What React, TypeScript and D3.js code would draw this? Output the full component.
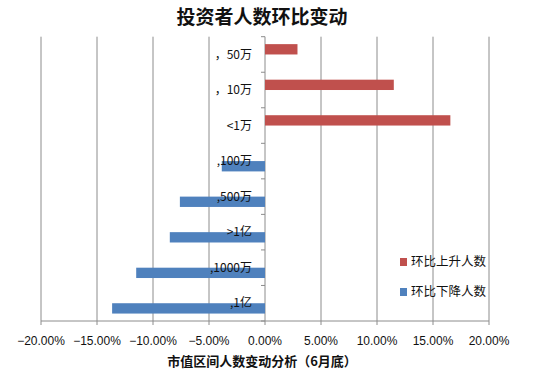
import * as d3 from 'd3'
import { useMemo } from 'react'

// categories top to bottom
const categories = ['，50万', '，10万', '<1万', ',100万', ',500万', '>1亿', ',1000万', ',1亿']
const seriesNames = ['环比上升人数', '环比下降人数']
const upValues = [2.9, 11.5, 16.55, 0, 0, 0, 0, 0]
const downValues = [0, 0, 0, -3.86, -7.6, -8.5, -11.5, -13.65]
const xTicks = [-20, -15, -10, -5, 0, 5, 10, 15, 20]
const colors = ['#C0504D', '#4F81BD']

const width = 533
const height = 384
const plot = { left: 41, right: 489, top: 36.7, bottom: 321 }
const cjk = '"Noto Sans CJK SC", sans-serif'
const grid = '#8c8c8c'

const App = () => {
  const xScale = useMemo(
    () => d3.scaleLinear().domain([-20, 20]).range([plot.left, plot.right]),
    []
  )
  const yScale = useMemo(
    () => d3.scaleBand().domain(categories).range([plot.top, plot.bottom]).padding(0),
    []
  )
  const subScale = useMemo(
    () =>
      d3.scaleBand().domain(seriesNames).range([0, yScale.bandwidth()]).paddingInner(0).paddingOuter(0.72),
    [yScale]
  )

  const rows = categories.map((c, i) => ({ c, vals: [upValues[i], downValues[i]] }))
  const x0 = xScale(0)

  return (
    <svg
      width={width}
      height={height}
      style={{ position: 'absolute', left: 0, top: 0, background: '#fff' }}
    >
      {/* title */}
      <text x={262} y={24} textAnchor="middle" fontSize="19px" fontWeight="bold" fontFamily={cjk} fill="#111">
        投资者人数环比变动
      </text>

      {/* gridlines */}
      {xTicks.map((t) => (
        <line key={t} x1={xScale(t)} x2={xScale(t)} y1={plot.top} y2={plot.bottom + 4} stroke={grid} strokeWidth={1} />
      ))}
      <line x1={plot.left} x2={plot.right} y1={plot.bottom} y2={plot.bottom} stroke={grid} />

      {/* category ticks on the zero axis */}
      {categories.map((c) => (
        <line key={c} x1={x0 - 4} x2={x0} y1={yScale(c)} y2={yScale(c)} stroke={grid} />
      ))}
      <line x1={x0 - 4} x2={x0} y1={plot.bottom} y2={plot.bottom} stroke={grid} />

      {/* bars */}
      {rows.map((r) =>
        r.vals.map((v, j) =>
          v === 0 ? null : (
            <rect
              key={r.c + j}
              x={Math.min(xScale(v), x0)}
              width={Math.abs(xScale(v) - x0)}
              y={(yScale(r.c) ?? 0) + (subScale(seriesNames[j]) ?? 0)}
              height={subScale.bandwidth()}
              fill={colors[j]}
            />
          )
        )
      )}

      {/* category labels */}
      {categories.map((c) => (
        <text
          key={c}
          x={x0 - 13}
          y={(yScale(c) ?? 0) + yScale.bandwidth() / 2}
          dy="0.35em"
          textAnchor="end"
          fontSize="12px"
          fontFamily={cjk}
          fill="#111"
        >
          {c}
        </text>
      ))}

      {/* x tick labels */}
      {xTicks.map((t) => (
        <text
          key={t}
          x={xScale(t)}
          y={341}
          dy="0.35em"
          textAnchor="middle"
          fontSize="12px"
          fontFamily='"Liberation Sans", Arial, sans-serif'
          fill="#111"
        >
          {d3.format('.2f')(t)}%
        </text>
      ))}

      {/* axis title */}
      <text x={262} y={361} dy="0.35em" textAnchor="middle" fontSize="13px" fontWeight="bold" fontFamily={cjk} fill="#111">
        市值区间人数变动分析（6月底）
      </text>

      {/* legend */}
      {seriesNames.map((s, i) => (
        <g key={s} transform={`translate(400, ${258 + i * 30})`}>
          <rect width={7} height={8} fill={colors[i]} />
          <text x={11} y={4} dy="0.35em" fontSize="12.5px" fontFamily={cjk} fill="#111">
            {s}
          </text>
        </g>
      ))}
    </svg>
  )
}

export default App
